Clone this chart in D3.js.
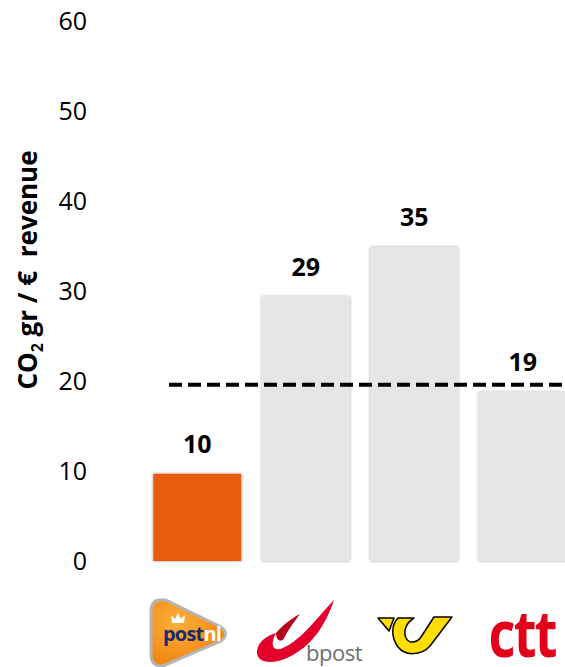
<!DOCTYPE html>
<html>
<head>
<meta charset="utf-8">
<script src="https://cdn.jsdelivr.net/npm/d3@7"></script>
<style>
  body { margin: 0; background: #fff; }
  svg { display: block; font-family: "Open Sans", sans-serif; }
</style>
</head>
<body>
<svg width="565" height="667"></svg>
<script>
// Chart data
const companies = ['postnl', 'bpost', 'austrianpost', 'ctt'];
const values = [9.7, 29.4, 34.9, 18.8];
const benchmark = 19.6; // dashed average line
const yTicks = [0, 10, 20, 30, 40, 50, 60];

const svg = d3.select('svg');

// Scales
const y = d3.scaleLinear().domain([0, 60]).range([561, 21.5]);
const x = d3.scaleBand()
    .domain(companies)
    .range([143, 577])
    .paddingInner(0.19)
    .paddingOuter(0.095);

// soft shadow round the bars
const defs = svg.append('defs');
const shadow = defs.append('filter').attr('id', 'shadow')
    .attr('x', '-10%').attr('y', '-10%').attr('width', '120%').attr('height', '120%');
shadow.append('feDropShadow')
    .attr('dx', 0).attr('dy', 0).attr('stdDeviation', 1.8)
    .attr('flood-color', '#000').attr('flood-opacity', 0.4);

const grad = defs.append('radialGradient').attr('id', 'pnl')
    .attr('cx', '35%').attr('cy', '35%').attr('r', '75%');
grad.append('stop').attr('offset', '0%').attr('stop-color', '#fbb03b');
grad.append('stop').attr('offset', '100%').attr('stop-color', '#f07f0a');

// Y axis (labels only)
const yAxis = svg.append('g')
    .attr('transform', 'translate(87,0)')
    .call(d3.axisLeft(y).tickValues(yTicks).tickSize(0).tickPadding(0));
yAxis.select('.domain').remove();
yAxis.selectAll('text')
    .style('font-family', '"Open Sans", sans-serif')
    .style('font-size', '25px')
    .attr('fill', '#000');

// Y title
const title = svg.append('text')
    .attr('transform', 'translate(37,270) rotate(-90)')
    .attr('text-anchor', 'middle')
    .attr('xml:space', 'preserve')
    .style('white-space', 'pre')
    .style('font-size', '26px')
    .style('font-weight', 'bold');
title.append('tspan').text('CO');
title.append('tspan').text('2').attr('dy', 6).style('font-size', '16px');
title.append('tspan').text(' gr / €  revenue').attr('dy', -6);

// Bars
svg.selectAll('rect.bar')
    .data(values)
    .join('rect')
    .attr('class', 'bar')
    .attr('x', (d, i) => x(companies[i]))
    .attr('y', d => y(d))
    .attr('width', x.bandwidth())
    .attr('height', d => y(0) - y(d))
    .attr('fill', (d, i) => i === 0 ? '#e85d07' : '#e6e6e6')
    .attr('filter', 'url(#shadow)');

// Value labels
svg.selectAll('text.val')
    .data(values)
    .join('text')
    .attr('class', 'val')
    .attr('x', (d, i) => x(companies[i]) + x.bandwidth() / 2)
    .attr('y', d => y(d) - 21)
    .attr('text-anchor', 'middle')
    .style('font-size', '25px')
    .style('font-weight', 'bold')
    .text(d => Math.round(d));

// Dashed benchmark line
svg.append('line')
    .attr('x1', 169).attr('x2', 565)
    .attr('y1', y(benchmark)).attr('y2', y(benchmark))
    .attr('stroke', '#000')
    .attr('stroke-width', 4)
    .attr('stroke-dasharray', '13,6');

// Logos under each bar
const logo = svg.append('g');

// postnl
const pnl = logo.append('g');
pnl.append('path')
    .attr('d', 'M160,600 Q151,600 151,612 L151,654 Q151,667 163,666 L221,641 Q230,634 221,627 L170,602 Q165,599 160,600 Z')
    .attr('fill', 'url(#pnl)')
    .attr('stroke', '#b5b5b5')
    .attr('stroke-width', 3);
pnl.append('path')
    .attr('d', 'M172,623 L171,615 L175,619 L178,613 L181,619 L185,615 L184,623 Z')
    .attr('fill', '#fff');
const pnlText = pnl.append('text')
    .attr('x', 163).attr('y', 641)
    .style('font-size', '20px')
    .style('font-weight', 'bold')
    .attr('letter-spacing', -0.8);
pnlText.append('tspan').text('post').attr('fill', '#1b2a6b');
pnlText.append('tspan').text('nl').attr('fill', '#fff');

// bpost
const bp = logo.append('g');
bp.append('path')
    .attr('d', 'M334,600 C320,614 302,640 283,648 C274,652 269,646 276,633 C266,636 258,642 257,651 C256,663 271,665 287,658 C312,647 326,624 334,600 Z')
    .attr('fill', '#e4002b');
bp.append('path')
    .attr('d', 'M276,633 C284,624 292,618 300,614 C294,622 288,630 283,640 C279,642 276,639 276,633 Z')
    .attr('fill', '#b8001e');
bp.append('text')
    .attr('x', 306).attr('y', 661)
    .style('font-size', '22px')
    .attr('fill', '#6d6e71')
    .attr('letter-spacing', -0.5)
    .text('bpost');

// Austrian post horn
const ap = logo.append('g')
    .attr('fill', '#ffdd00')
    .attr('stroke', '#000')
    .attr('stroke-width', 1.5)
    .attr('stroke-linejoin', 'round');
ap.append('path').attr('d', 'M378,618 L394,618 L389,631 Z');
ap.append('path')
    .attr('d', 'M398,618 L414,618 C406,623 403,631 406,638 C409,644 417,643 421,637 L434,617 L452,617 L430,646 C421,656 405,656 398,647 C391,637 391,625 398,618 Z');

// ctt (condensed, tall)
logo.append('text')
    .attr('transform', 'translate(556,657) scale(0.82,1)')
    .attr('text-anchor', 'end')
    .style('font-size', '64px')
    .style('font-weight', 'bold')
    .attr('fill', '#e3001b')
    .attr('letter-spacing', -2)
    .text('ctt');
</script>
</body>
</html>
